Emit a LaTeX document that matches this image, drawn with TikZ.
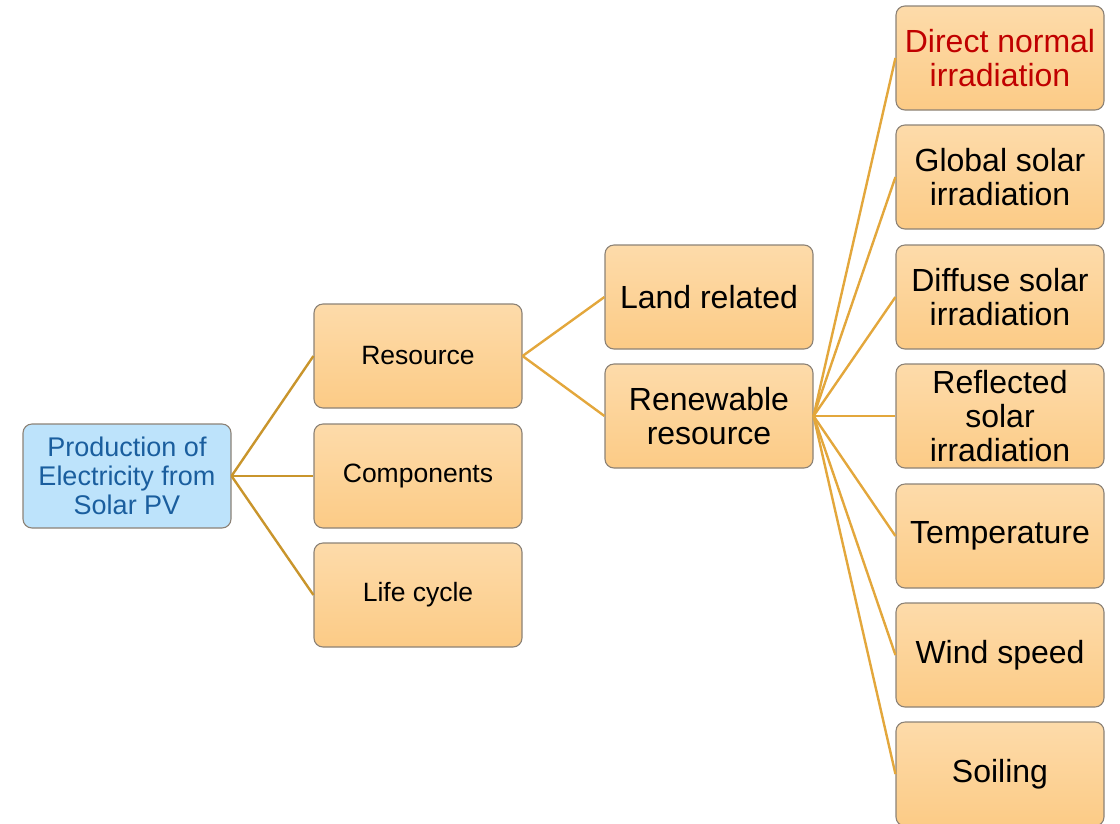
\documentclass[tikz,border=0pt]{standalone}
\usepackage{fontspec}
\setmainfont{Liberation Sans}
\definecolor{boxtop}{HTML}{FDDBAA}
\definecolor{boxbot}{HTML}{FCCB86}
\definecolor{boxline}{HTML}{8C8276}
\definecolor{rootfill}{HTML}{BDE3FB}
\definecolor{roottext}{HTML}{1A5E9E}
\definecolor{linkA}{HTML}{C9952C}
\definecolor{linkB}{HTML}{E3A73C}
\definecolor{redtext}{HTML}{C00000}
\tikzset{
  box/.style={draw=boxline, line width=1.1pt, rounded corners=9pt, minimum width=208pt, minimum height=104pt, align=center, inner sep=2pt, top color=boxtop, bottom color=boxbot},
  midbox/.style={box, font=\fontsize{26.5}{29}\selectfont},
  bigbox/.style={box, font=\fontsize{32}{34}\selectfont},
  rootbox/.style={draw=boxline, line width=1.1pt, rounded corners=9pt, minimum width=208pt, minimum height=104pt, align=center, inner sep=2pt, fill=rootfill, text=roottext, font=\fontsize{27}{29}\selectfont},
  linkone/.style={draw=linkA, line width=2.4pt},
  linktwo/.style={draw=linkB, line width=2.4pt}
}
\begin{document}
\begin{tikzpicture}[x=1pt,y=-1pt]
\useasboundingbox (0,0) rectangle (1120,823);
\node[rootbox] (root) at (127,476) {Production of\\Electricity from\\Solar PV};
\node[midbox] (res) at (418,356) {Resource};
\node[midbox] (comp) at (418,476) {Components};
\node[midbox] (life) at (418,595) {Life cycle};
\node[bigbox] (land) at (709,297) {Land related};
\node[bigbox] (renew) at (709,416) {Renewable\\resource};
\node[bigbox, text=redtext] (dni) at (1000,58) {Direct normal\\irradiation};
\node[bigbox] (ghi) at (1000,177) {Global solar\\irradiation};
\node[bigbox] (dhi) at (1000,297) {Diffuse solar\\irradiation};
\node[bigbox] (refl) at (1000,416) {Reflected\\solar\\irradiation};
\node[bigbox] (temp) at (1000,536) {Temperature};
\node[bigbox] (wind) at (1000,655) {Wind speed};
\node[bigbox] (soil) at (1000,774) {Soiling};
\draw[linkone] (root.east) -- (res.west);
\draw[linkone] (root.east) -- (comp.west);
\draw[linkone] (root.east) -- (life.west);
\draw[linktwo] (res.east) -- (land.west);
\draw[linktwo] (res.east) -- (renew.west);
\foreach \t in {dni,ghi,dhi,refl,temp,wind,soil}
  \draw[linktwo] (renew.east) -- (\t.west);
\end{tikzpicture}
\end{document}
